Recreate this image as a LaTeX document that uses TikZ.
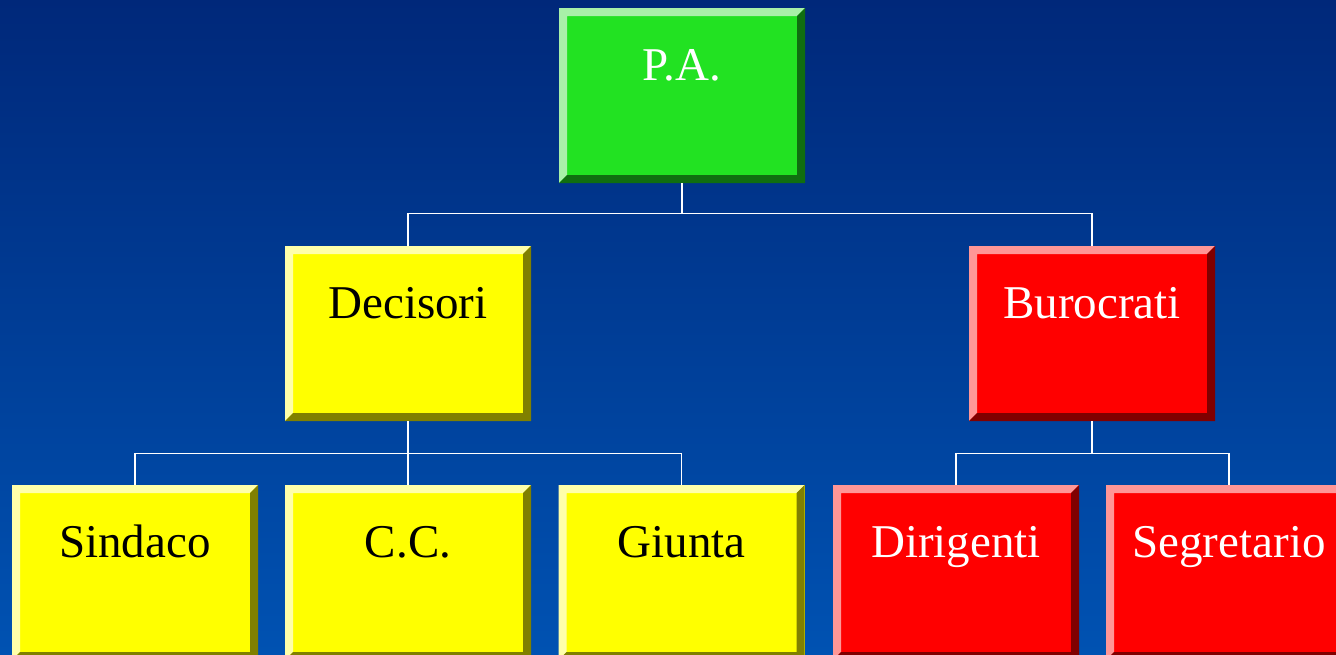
\documentclass[tikz,border=0pt]{standalone}
\usepackage{fontspec}
\setmainfont{Liberation Serif}
\usetikzlibrary{calc,positioning}

\definecolor{bgtop}{RGB}{0,40,122}
\definecolor{bgbottom}{RGB}{0,82,178}
\definecolor{pagreen}{RGB}{34,226,34}
\definecolor{pagreenlight}{RGB}{168,240,168}
\definecolor{pagreendark}{RGB}{16,110,16}
\definecolor{decyellow}{RGB}{255,255,0}
\definecolor{decyellowlight}{RGB}{255,255,170}
\definecolor{decyellowdark}{RGB}{128,128,0}
\definecolor{burred}{RGB}{255,0,0}
\definecolor{burredlight}{RGB}{255,150,150}
\definecolor{burreddark}{RGB}{128,0,0}

\tikzset{
  bevelbox/.style n args={4}{rectangle, inner sep=0pt, minimum width=123pt,
    text height=36pt, text depth=51.5pt, text=#4, fill=#1,
    font=\fontsize{23.5}{28}\selectfont,
    path picture={
      \fill[#2] (path picture bounding box.south west) -- (path picture bounding box.north west)
        -- (path picture bounding box.north east) -- ++(-4pt,-4pt)
        -- ($(path picture bounding box.north west)+(4pt,-4pt)$)
        -- ($(path picture bounding box.south west)+(4pt,4pt)$) -- cycle;
      \fill[#3] (path picture bounding box.north east) -- (path picture bounding box.south east)
        -- (path picture bounding box.south west) -- ++(4pt,4pt)
        -- ($(path picture bounding box.south east)+(-4pt,4pt)$)
        -- ($(path picture bounding box.north east)+(-4pt,-4pt)$) -- cycle;
    }},
  greenbox/.style={bevelbox={pagreen}{pagreenlight}{pagreendark}{white}},
  yellowbox/.style={bevelbox={decyellow}{decyellowlight}{decyellowdark}{black}},
  redbox/.style={bevelbox={burred}{burredlight}{burreddark}{white}},
  link/.style={white, line width=0.8pt}
}

\begin{document}
\begin{tikzpicture}[x=0.5pt, y=-0.5pt]
  % Background
  \clip (0,0) rectangle (1336,654);
  \shade[top color=bgtop, bottom color=bgbottom] (0,0) rectangle (1336,654);

  % Draw boxes
  \node[greenbox] (pa) at (682,95.5) {P.A.};
  \node[yellowbox] (decisori) at (408,333.5) {Decisori};
  \node[redbox] (burocrati) at (1092,333.5) {Burocrati};
  \node[yellowbox] (sindaco) at (135,572.5) {Sindaco};
  \node[yellowbox] (cc) at (408,572.5) {C.C.};
  \node[yellowbox] (giunta) at (681.5,572.5) {Giunta};
  \node[redbox] (dirigenti) at (956,572.5) {Dirigenti};
  \node[redbox] (segretario) at (1229,572.5) {Segretario};

  % Draw connectors
  \coordinate (pajoin) at ($(pa.south)+(0,30)$);
  \draw[link] (pa.south) -- (pajoin) -| (decisori.north);
  \draw[link] (pajoin) -| (burocrati.north);

  \coordinate (decjoin) at ($(decisori.south)+(0,32)$);
  \draw[link] (decisori.south) -- (decjoin) -| (sindaco.north);
  \draw[link] (decjoin) -| (giunta.north);
  \draw[link] (decjoin) -- (cc.north);

  \coordinate (burjoin) at ($(burocrati.south)+(0,32)$);
  \draw[link] (burocrati.south) -- (burjoin) -| (dirigenti.north);
  \draw[link] (burjoin) -| (segretario.north);
\end{tikzpicture}
\end{document}
